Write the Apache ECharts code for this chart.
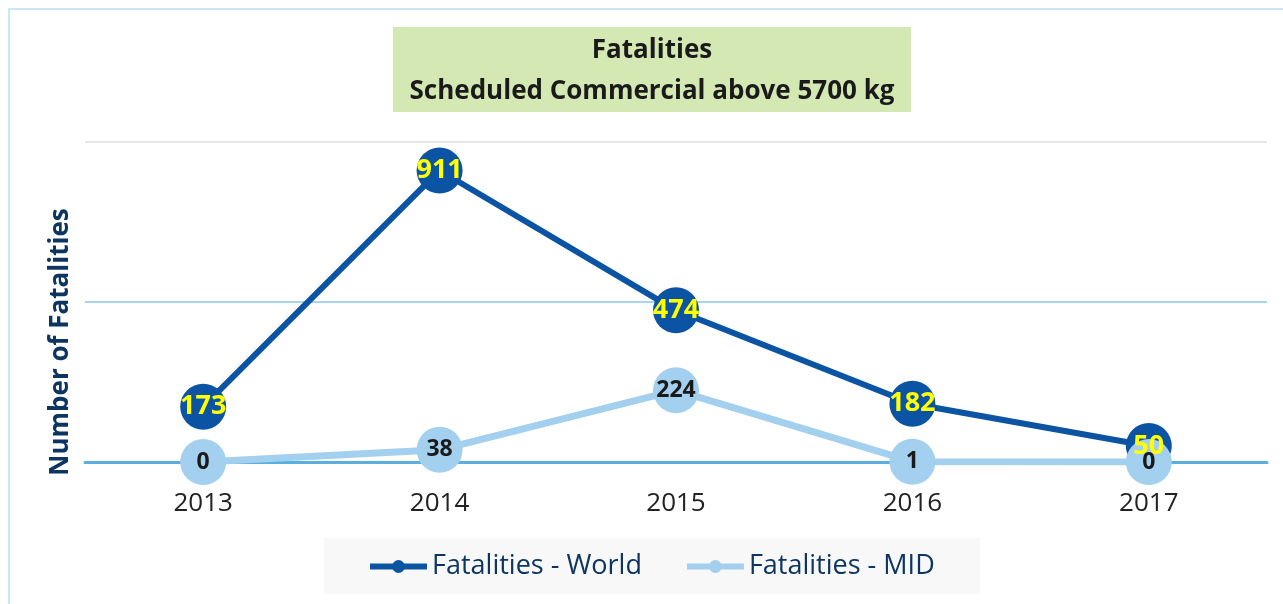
<!DOCTYPE html>
<html><head><meta charset="utf-8">
<script src="https://cdn.jsdelivr.net/npm/echarts@6/dist/echarts.min.js"></script>
<style>html,body{margin:0;padding:0;background:#fff}#c{width:1283px;height:604px}</style>
</head><body><div id="c"></div>
<script>
const years = ['2013','2014','2015','2016','2017'];
const worldFatalities = [173, 911, 474, 182, 50];
const midFatalities = [0, 38, 224, 1, 0];
const yTicks = [0, 500, 1000];

const FONT = '"Open Sans", "Noto Sans", sans-serif';
const chart = echarts.init(document.getElementById('c'), null, {renderer:'canvas'});
chart.setOption({
  animation:false,
  backgroundColor:'#fff',
  graphic:[
    {type:'rect', shape:{x:9,y:9,width:1400,height:700}, style:{fill:'none',stroke:'#cde6f5',lineWidth:2}, z:-10},
    {type:'rect', shape:{x:393,y:27,width:518,height:85}, style:{fill:'#d4e8b4'}, z:-5},
    {type:'text', style:{text:'Fatalities',font:'bold 26px '+FONT,fill:'#1a1a1a',textAlign:'center',textVerticalAlign:'middle'}, position:[652,51]},
    {type:'text', style:{text:'Scheduled Commercial above 5700 kg',font:'bold 26px '+FONT,fill:'#1a1a1a',textAlign:'center',textVerticalAlign:'middle'}, position:[652,92]},
    {type:'text', style:{text:'Number of Fatalities',font:'bold 26px '+FONT,fill:'#0c3561',textAlign:'center',textVerticalAlign:'middle'}, position:[61,342], rotation:Math.PI/2},
    {type:'rect', shape:{x:324,y:538,width:656,height:56}, style:{fill:'#f8f8f8'}, z:-5}
  ],
  grid:{left:85, right:16, top:142, bottom:142},
  legend:{
    top:548, left:362, itemGap:42, itemWidth:57, itemHeight:16,
    textStyle:{fontFamily:FONT, fontSize:27, color:'#0c3561'},
    lineStyle:{width:6},
    data:['Fatalities - World','Fatalities - MID']
  },
  xAxis:{
    type:'category', data:years, boundaryGap:true,
    axisLine:{show:true, lineStyle:{color:'#5aafdf', width:3}},
    axisTick:{show:false},
    axisLabel:{fontFamily:FONT, fontSize:26, color:'#222', margin:29}
  },
  yAxis:{
    type:'value', min:yTicks[0], max:yTicks[yTicks.length-1], interval:yTicks[1]-yTicks[0],
    axisLabel:{show:false}, axisLine:{show:false}, axisTick:{show:false},
    splitLine:{lineStyle:{color:['#5aafdf','#a9d4ef','#e6e6e6'], width:2}}
  },
  series:[
    {
      name:'Fatalities - World', type:'line', data:worldFatalities,
      symbol:'circle', symbolSize:46, z:3,
      lineStyle:{color:'#0b54a3', width:6}, itemStyle:{color:'#0b54a3'},
      label:{show:false}
    },
    {
      name:'Fatalities - MID', type:'line', data:midFatalities,
      symbol:'circle', symbolSize:46, z:4,
      lineStyle:{color:'#a3d0ef', width:7}, itemStyle:{color:'#a3d0ef'},
      label:{show:true, position:'inside', color:'#1a1a1a', fontFamily:FONT, fontWeight:'bold', fontSize:23}
    },
    {
      name:'worldLabels', type:'scatter', data:worldFatalities,
      symbol:'circle', symbolSize:2, z:10, silent:true,
      itemStyle:{color:'rgba(0,0,0,0)', opacity:1},
      label:{show:true, position:'inside', color:'#ffff00', opacity:1, fontFamily:FONT, fontWeight:'bold', fontSize:27}
    }
  ]
});
</script></body></html>
